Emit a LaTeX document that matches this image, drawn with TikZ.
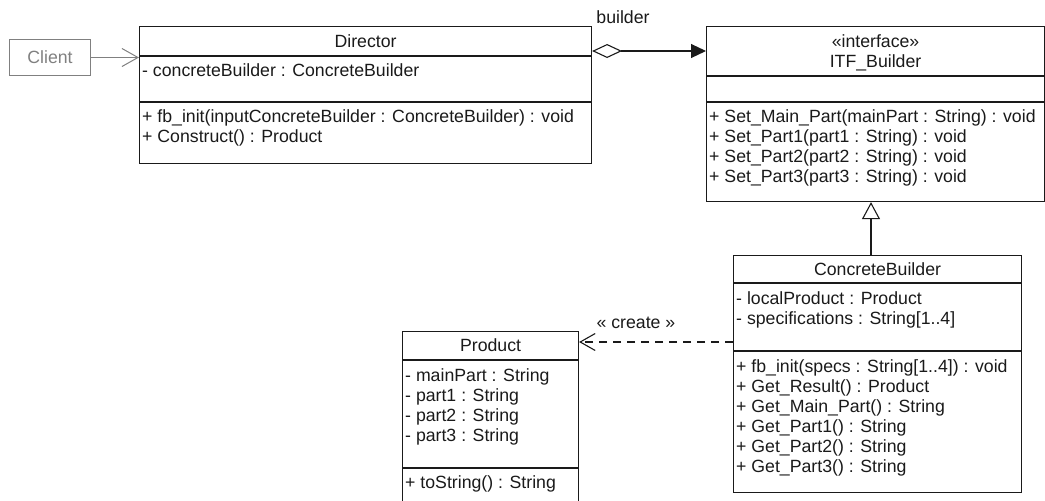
\documentclass[tikz,border=0pt]{standalone}
\usepackage{fontspec}
\setmainfont{Liberation Sans}
\usetikzlibrary{arrows.meta,calc}

\definecolor{ink}{HTML}{1A1A1A}
\definecolor{greyink}{HTML}{808080}

\tikzset{
  classbox/.style={draw=ink, line width=1.1pt, rectangle, anchor=north west, inner sep=0pt},
  sep/.style={draw=ink, line width=1.1pt},
  member/.style={anchor=base west, inner sep=0pt, text=ink},
  title/.style={anchor=base, inner sep=0pt, text=ink},
  conn/.style={draw=ink, line width=1.1pt},
}

\begin{document}
\begin{tikzpicture}[x=1pt, y=-1pt, font=\fontsize{17.7}{20}\selectfont]
\clip (0,0) rectangle (1045,501);

% ---------- Client ----------
\node[draw=greyink, line width=1pt, anchor=north west, minimum width=81pt, minimum height=36pt, inner sep=0pt] (client) at (9,39) {};
\node[anchor=base, inner sep=0pt, text=greyink] (clientname) at ($(client.north)+(0,24)$) {Client};

% ---------- Director ----------
\node[classbox, minimum width=452pt, minimum height=137pt] (director) at (139,26) {};
\draw[sep] ($(director.north west)+(0,30)$) -- ($(director.north east)+(0,30)$);
\draw[sep] ($(director.north west)+(0,76)$) -- ($(director.north east)+(0,76)$);
\node[title] (dname) at ($(director.north)+(0,21)$) {Director};
\node[member] (da1) at ($(director.north west)+(3,50)$) {- concreteBuilder : ConcreteBuilder};
\node[member] (dm1) at ($(director.north west)+(3,96)$) {+ fb\_init(inputConcreteBuilder : ConcreteBuilder) : void};
\node[member] (dm2) at ($(director.north west)+(3,116)$) {+ Construct() : Product};

% ---------- ITF_Builder ----------
\node[classbox, minimum width=338pt, minimum height=175pt] (itf) at (706,26) {};
\draw[sep] ($(itf.north west)+(0,50)$) -- ($(itf.north east)+(0,50)$);
\draw[sep] ($(itf.north west)+(0,76)$) -- ($(itf.north east)+(0,76)$);
\node[title] (istereo) at ($(itf.north)+(0,21)$) {«interface»};
\node[title] (iname) at ($(itf.north)+(0,41)$) {ITF\_Builder};
\node[member] (im1) at ($(itf.north west)+(3,96)$) {+ Set\_Main\_Part(mainPart : String) : void};
\node[member] (im2) at ($(itf.north west)+(3,116)$) {+ Set\_Part1(part1 : String) : void};
\node[member] (im3) at ($(itf.north west)+(3,136)$) {+ Set\_Part2(part2 : String) : void};
\node[member] (im4) at ($(itf.north west)+(3,156)$) {+ Set\_Part3(part3 : String) : void};

% ---------- ConcreteBuilder ----------
\node[classbox, minimum width=288pt, minimum height=237pt] (cb) at (733,255) {};
\draw[sep] ($(cb.north west)+(0,28)$) -- ($(cb.north east)+(0,28)$);
\draw[sep] ($(cb.north west)+(0,96)$) -- ($(cb.north east)+(0,96)$);
\node[title] (cbname) at ($(cb.north)+(0,20)$) {ConcreteBuilder};
\node[member] (ca1) at ($(cb.north west)+(3,49)$) {- localProduct : Product};
\node[member] (ca2) at ($(cb.north west)+(3,69)$) {- specifications : String[1..4]};
\node[member] (cm1) at ($(cb.north west)+(3,117)$) {+ fb\_init(specs : String[1..4]) : void};
\node[member] (cm2) at ($(cb.north west)+(3,137)$) {+ Get\_Result() : Product};
\node[member] (cm3) at ($(cb.north west)+(3,157)$) {+ Get\_Main\_Part() : String};
\node[member] (cm4) at ($(cb.north west)+(3,177)$) {+ Get\_Part1() : String};
\node[member] (cm5) at ($(cb.north west)+(3,197)$) {+ Get\_Part2() : String};
\node[member] (cm6) at ($(cb.north west)+(3,217)$) {+ Get\_Part3() : String};

% ---------- Product (its lower edge runs past the frame) ----------
\node[classbox, minimum width=176pt, minimum height=180pt] (product) at (402,331) {};
\draw[sep] ($(product.north west)+(0,29)$) -- ($(product.north east)+(0,29)$);
\draw[sep] ($(product.north west)+(0,137)$) -- ($(product.north east)+(0,137)$);
\node[title] (pname) at ($(product.north)+(0,20.5)$) {Product};
\node[member] (pa1) at ($(product.north west)+(3,50)$) {- mainPart : String};
\node[member] (pa2) at ($(product.north west)+(3,70)$) {- part1 : String};
\node[member] (pa3) at ($(product.north west)+(3,90)$) {- part2 : String};
\node[member] (pa4) at ($(product.north west)+(3,110)$) {- part3 : String};
\node[member] (pm1) at ($(product.north west)+(3,157)$) {+ toString() : String};

% ---------- Connectors ----------
% Client uses Director
\draw[draw=greyink, line width=1pt, -{Straight Barb[length=16pt, width=18pt]}]
  (client.east) -- (client.east -| director.west);

% Director aggregates an ITF_Builder (role: builder)
\coordinate (aggstart) at ($(director.north east)+(0,25)$);
\coordinate (aggend) at ($(itf.north west)+(0,25)$);
\draw[conn, {Diamond[open, fill=white, length=30pt, width=14pt]}-{Triangle[length=15pt, width=14pt]}]
  (aggstart) -- (aggend);
\node[anchor=base, inner sep=0pt, text=ink] (rolelabel) at (623,23) {builder};

% ConcreteBuilder realises ITF_Builder
\coordinate (genstart) at ($(cb.north west)+(138,0)$);
\draw[conn, -{Triangle[open, fill=white, length=17pt, width=18pt]}]
  (genstart) -- (genstart |- itf.south);

% ConcreteBuilder creates Product
\coordinate (depstart) at ($(cb.north west)+(0,87)$);
\draw[conn, dash pattern=on 8pt off 6pt, -{Straight Barb[length=15pt, width=17pt]}]
  (depstart) -- (depstart -| product.east);
\node[anchor=base, inner sep=0pt, text=ink] (createlabel) at (636,328) {« create »};
\end{tikzpicture}
\end{document}
